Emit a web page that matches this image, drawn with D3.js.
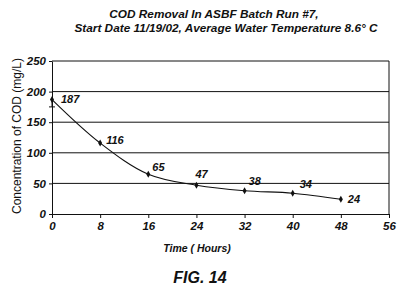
<!DOCTYPE html>
<html><head><meta charset="utf-8">
<script src="https://cdn.jsdelivr.net/npm/d3@7"></script>
<style>
body{margin:0;background:#fff;}
svg text{font-family:"Liberation Sans",Arial,sans-serif;fill:#111;}
</style></head><body>
<svg id="c" width="401" height="305"></svg>
<script>
const hours = [0, 8, 16, 24, 32, 40, 48];
const cod = [187, 116, 65, 47, 38, 34, 24];
const labels = ["187", "116", "65", "47", "38", "34", "24"];
const xTicks = [0, 8, 16, 24, 32, 40, 48, 56];
const yTicks = [0, 50, 100, 150, 200, 250];
const titleLines = ["COD Removal In ASBF Batch Run #7,", "Start Date 11/19/02, Average Water Temperature 8.6\u00b0 C"];
const errLow = [175];
// layout offsets (px)
const titleCx = [214, 226];
const labelDx = [9, 6, 4, -1, 4, 7, 7];
const labelDy = [3.5, 1, -3, -7, -6, -5, 4];

const svg = d3.select("#c");
const m = {l:52, r:389, t:61, b:214};
const x = d3.scaleLinear().domain([0,56]).range([m.l, m.r]);
const y = d3.scaleLinear().domain([0,250]).range([m.b, m.t]);

// title
svg.selectAll("text.title").data(titleLines).join("text")
  .attr("x", (d,i)=>titleCx[i]).attr("y", (d,i)=>18+i*14)
  .attr("text-anchor","middle").attr("font-size",11.8)
  .attr("font-weight","bold").attr("font-style","italic").text(d=>d);

// gridlines
svg.append("g").selectAll("line").data(yTicks.filter(v=>v>0)).join("line")
  .attr("x1", m.l).attr("x2", m.r).attr("y1", d=>y(d)).attr("y2", d=>y(d))
  .attr("stroke","#111").attr("stroke-width",1);
// right border
svg.append("line").attr("x1",m.r).attr("x2",m.r).attr("y1",m.t).attr("y2",m.b)
  .attr("stroke","#111").attr("stroke-width",1);

// axes
const ya = svg.append("g").attr("transform",`translate(${m.l},0)`)
  .call(d3.axisLeft(y).tickValues(yTicks).tickSize(3).tickSizeOuter(0).tickPadding(3));
const xa = svg.append("g").attr("transform",`translate(0,${m.b})`)
  .call(d3.axisBottom(x).tickValues(xTicks).tickSize(4).tickSizeOuter(0).tickPadding(4));
[ya,xa].forEach(a=>{
  a.select(".domain").attr("stroke","#111");
  a.selectAll(".tick line").attr("stroke","#111");
  a.selectAll("text").attr("font-size",11.5).attr("font-weight","bold")
    .attr("font-style","italic").attr("fill","#111")
    .style("font-family","'Liberation Sans',Arial,sans-serif");
});

// error bar at first point
svg.append("line").attr("x1",x(hours[0])).attr("x2",x(hours[0]))
  .attr("y1",y(cod[0])).attr("y2",y(errLow[0])).attr("stroke","#111");
svg.append("line").attr("x1",x(hours[0])-3).attr("x2",x(hours[0])+3)
  .attr("y1",y(errLow[0])).attr("y2",y(errLow[0])).attr("stroke","#111");

// line
const pts = hours.map((h,i)=>[h,cod[i]]);
svg.append("path").datum(pts)
  .attr("d", d3.line().x(d=>x(d[0])).y(d=>y(d[1])).curve(d3.curveCatmullRom.alpha(0.5)))
  .attr("fill","none").attr("stroke","#111").attr("stroke-width",1.1);

// markers
svg.append("g").selectAll("path").data(pts).join("path")
  .attr("d", d3.symbol(d3.symbolDiamond, 14))
  .attr("transform", d=>`translate(${x(d[0])},${y(d[1])})`)
  .attr("fill","#111");

// data labels
svg.append("g").selectAll("text").data(pts).join("text")
  .attr("x", (d,i)=>x(d[0])+labelDx[i])
  .attr("y", (d,i)=>y(d[1])+labelDy[i])
  .attr("font-size",11).attr("font-weight","bold").attr("font-style","italic")
  .text((d,i)=>labels[i]);

// axis titles
svg.append("text").attr("transform","translate(21,136) rotate(-90)")
  .attr("text-anchor","middle").attr("font-size",12).text("Concentration of COD (mg/L)");
svg.append("text").attr("x",197).attr("y",252).attr("text-anchor","middle")
  .attr("font-size",10.5).attr("font-weight","bold").attr("font-style","italic").text("Time ( Hours)");
svg.append("text").attr("x",200).attr("y",283).attr("text-anchor","middle")
  .attr("font-size",16).attr("font-weight","bold").attr("font-style","italic").text("FIG. 14");
</script></body></html>
